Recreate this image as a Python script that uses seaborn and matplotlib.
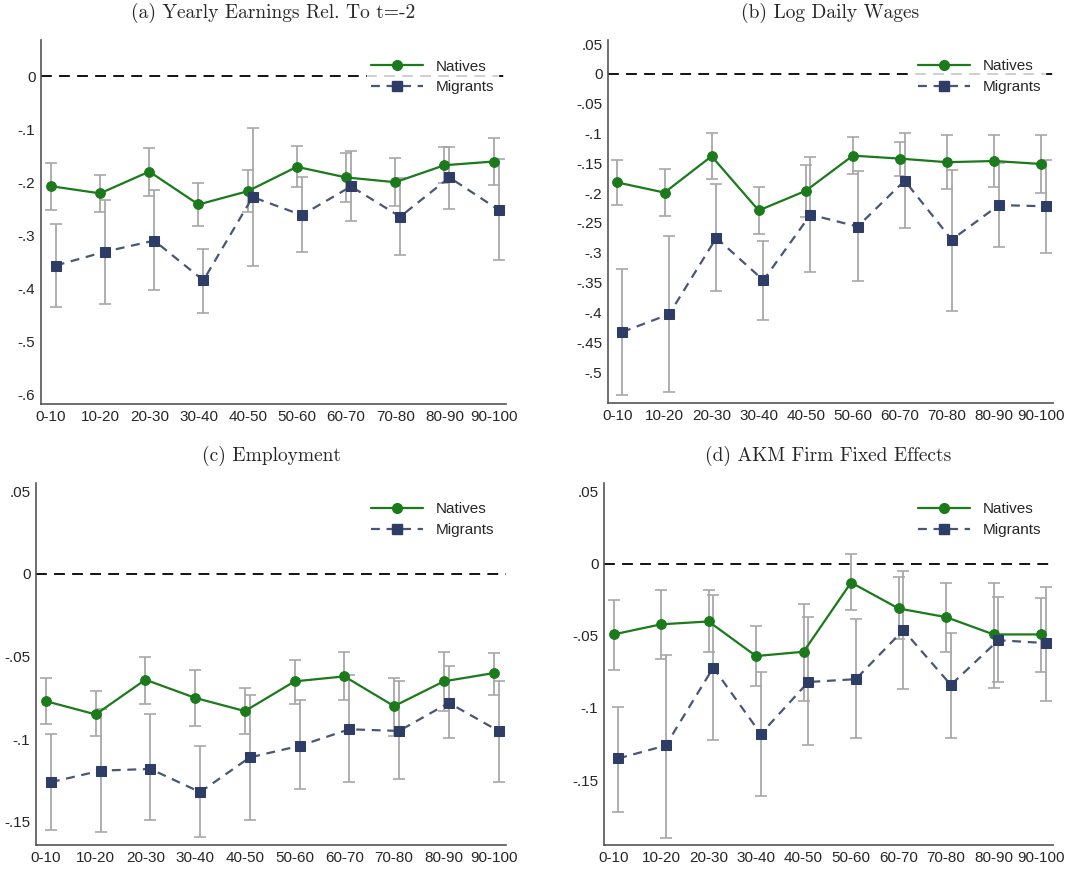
import matplotlib
matplotlib.use("Agg")
import matplotlib.pyplot as plt
import seaborn as sns
import numpy as np
import pandas as pd

categories = ["0-10","10-20","20-30","30-40","40-50","50-60","60-70","70-80","80-90","90-100"]

# Panel a
a_nat = [-.2075,-.221,-.180,-.242,-.217,-.171,-.191,-.200,-.168,-.161]
a_nat_lo = [-.2516,-.256,-.226,-.283,-.256,-.209,-.237,-.244,-.202,-.206]
a_nat_hi = [-.1635,-.187,-.135,-.201,-.177,-.132,-.145,-.155,-.133,-.116]
a_mig = [-.357,-.331,-.310,-.385,-.228,-.262,-.208,-.265,-.191,-.252]
a_mig_lo = [-.435,-.430,-.403,-.447,-.357,-.332,-.274,-.338,-.251,-.346]
a_mig_hi = [-.279,-.233,-.215,-.325,-.097,-.191,-.141,-.192,-.133,-.156]
# Panel b
b_nat = [-.182,-.199,-.138,-.229,-.196,-.137,-.142,-.148,-.146,-.151]
b_nat_lo = [-.219,-.239,-.176,-.269,-.240,-.167,-.171,-.193,-.189,-.199]
b_nat_hi = [-.144,-.159,-.099,-.190,-.152,-.105,-.114,-.103,-.103,-.103]
b_mig = [-.433,-.403,-.275,-.346,-.236,-.256,-.179,-.278,-.220,-.222]
b_mig_lo = [-.538,-.534,-.364,-.413,-.333,-.347,-.258,-.397,-.290,-.300]
b_mig_hi = [-.327,-.271,-.184,-.280,-.140,-.163,-.099,-.161,-.149,-.144]
# Panel c
c_nat = [-.077,-.085,-.064,-.075,-.083,-.065,-.062,-.080,-.065,-.060]
c_nat_lo = [-.091,-.098,-.079,-.092,-.097,-.079,-.076,-.098,-.083,-.073]
c_nat_hi = [-.063,-.071,-.050,-.058,-.069,-.052,-.047,-.063,-.047,-.048]
c_mig = [-.126,-.119,-.118,-.132,-.111,-.104,-.094,-.095,-.078,-.095]
c_mig_lo = [-.155,-.156,-.149,-.159,-.149,-.130,-.126,-.124,-.099,-.126]
c_mig_hi = [-.097,-.082,-.085,-.104,-.073,-.076,-.061,-.065,-.056,-.065]
# Panel d
d_nat = [-.049,-.042,-.040,-.064,-.061,-.013,-.031,-.037,-.049,-.049]
d_nat_lo = [-.074,-.066,-.061,-.085,-.095,-.032,-.052,-.061,-.086,-.075]
d_nat_hi = [-.025,-.018,-.018,-.043,-.028,.007,-.009,-.013,-.013,-.024]
d_mig = [-.135,-.126,-.072,-.118,-.082,-.080,-.046,-.084,-.053,-.055]
d_mig_lo = [-.172,-.190,-.122,-.161,-.126,-.121,-.087,-.121,-.082,-.095]
d_mig_hi = [-.099,-.063,-.022,-.075,-.037,-.038,-.005,-.048,-.023,-.016]

titles = ["(a) Yearly Earnings Rel. To t=-2", "(b) Log Daily Wages",
          "(c) Employment", "(d) AKM Firm Fixed Effects"]
yticks = [[0,-.1,-.2,-.3,-.4,-.5,-.6],
          [.05,0,-.05,-.1,-.15,-.2,-.25,-.3,-.35,-.4,-.45,-.5],
          [.05,0,-.05,-.1,-.15],
          [.05,0,-.05,-.1,-.15]]
ylims = [(-.618,.068),(-.552,.057),(-.164,.055),(-.195,.056)]
rects = [(41,40,506,404),(608,40,1053,403),(36,483,506,845),(604,483,1053,845)]

panels = [(a_nat,a_nat_lo,a_nat_hi,a_mig,a_mig_lo,a_mig_hi),
          (b_nat,b_nat_lo,b_nat_hi,b_mig,b_mig_lo,b_mig_hi),
          (c_nat,c_nat_lo,c_nat_hi,c_mig,c_mig_lo,c_mig_hi),
          (d_nat,d_nat_lo,d_nat_hi,d_mig,d_mig_lo,d_mig_hi)]

sns.set_style("white")
plt.rcParams['font.family'] = ['Liberation Sans', 'DejaVu Sans']
W, H = 1091, 869
fig = plt.figure(figsize=(W/100, H/100), dpi=100)
GREEN = "#1b7a1b"; NAVY = "#2e3d66"; NAVYL = "#4a5678"; GREY = "#a8a8a8"
off = 0.1

def fmt(v):
    if abs(v) < 1e-9: return "0"
    s = ("%g" % v)
    return s.replace("0.", ".")

for i, (p, ttl) in enumerate(zip(panels, titles)):
    l, t, r, b = rects[i]
    ax = fig.add_axes([l/W, 1-b/H, (r-l)/W, (b-t)/H])
    nat, nlo, nhi, mig, mlo, mhi = [np.array(v) for v in p]
    x = np.arange(len(categories))
    ax.axhline(0, color="black", lw=1.3, ls=(0,(6,4)), zorder=1)
    ax.errorbar(x, nat, yerr=[nat-nlo, nhi-nat], fmt="none", ecolor=GREY, elinewidth=1.3, capsize=4, capthick=1.2, zorder=2)
    ax.errorbar(x+off, mig, yerr=[mig-mlo, mhi-mig], fmt="none", ecolor=GREY, elinewidth=1.3, capsize=4, capthick=1.2, zorder=2)
    df = pd.DataFrame({"x": np.concatenate([x, x+off]), "y": np.concatenate([nat, mig]),
                       "g": ["Natives"]*len(x) + ["Migrants"]*len(x)})
    sns.lineplot(data=df, x="x", y="y", hue="g", style="g", markers={"Natives":"o","Migrants":"s"},
                 dashes={"Natives":"", "Migrants":(4,3)}, palette={"Natives":GREEN,"Migrants":NAVYL},
                 markersize=7, lw=1.6, ax=ax, zorder=3, legend=False)
    for ln, mc in zip(ax.get_lines()[-2:], [GREEN, NAVY]):
        ln.set_markerfacecolor(mc); ln.set_markeredgecolor(mc)
    h1, = ax.plot([], [], color=GREEN, marker="o", ms=7, lw=1.6)
    h2, = ax.plot([], [], color=NAVYL, marker="s", ms=7, lw=1.6, ls=(0,(4,3)), mfc=NAVY, mec=NAVY)
    leg = ax.legend([h1, h2], ["Natives", "Migrants"], loc="upper right", frameon=True,
                    fontsize=11, handlelength=3.4, borderpad=0.3, labelspacing=0.45,
                    bbox_to_anchor=(1.0, 0.98))
    leg.get_frame().set_edgecolor("white"); leg.get_frame().set_facecolor("white")
    ax.set_xlim(-0.2, 9.25)
    ax.set_ylim(*ylims[i])
    ax.set_xticks(x); ax.set_xticklabels(categories, fontsize=11)
    ax.set_yticks(yticks[i]); ax.set_yticklabels([fmt(v) for v in yticks[i]], fontsize=11)
    ax.tick_params(axis="both", length=3, width=0.8, color="#555555", pad=1)
    for s in ["top", "right"]:
        ax.spines[s].set_visible(False)
    for s in ["left", "bottom"]:
        ax.spines[s].set_color("#555555"); ax.spines[s].set_linewidth(1.2)
    ax.set_xlabel(""); ax.set_ylabel("")
    ax.set_title(ttl, family=['cmr10', 'DejaVu Serif'], fontsize=14, pad=16)

fig.savefig("out.png", dpi=100)
